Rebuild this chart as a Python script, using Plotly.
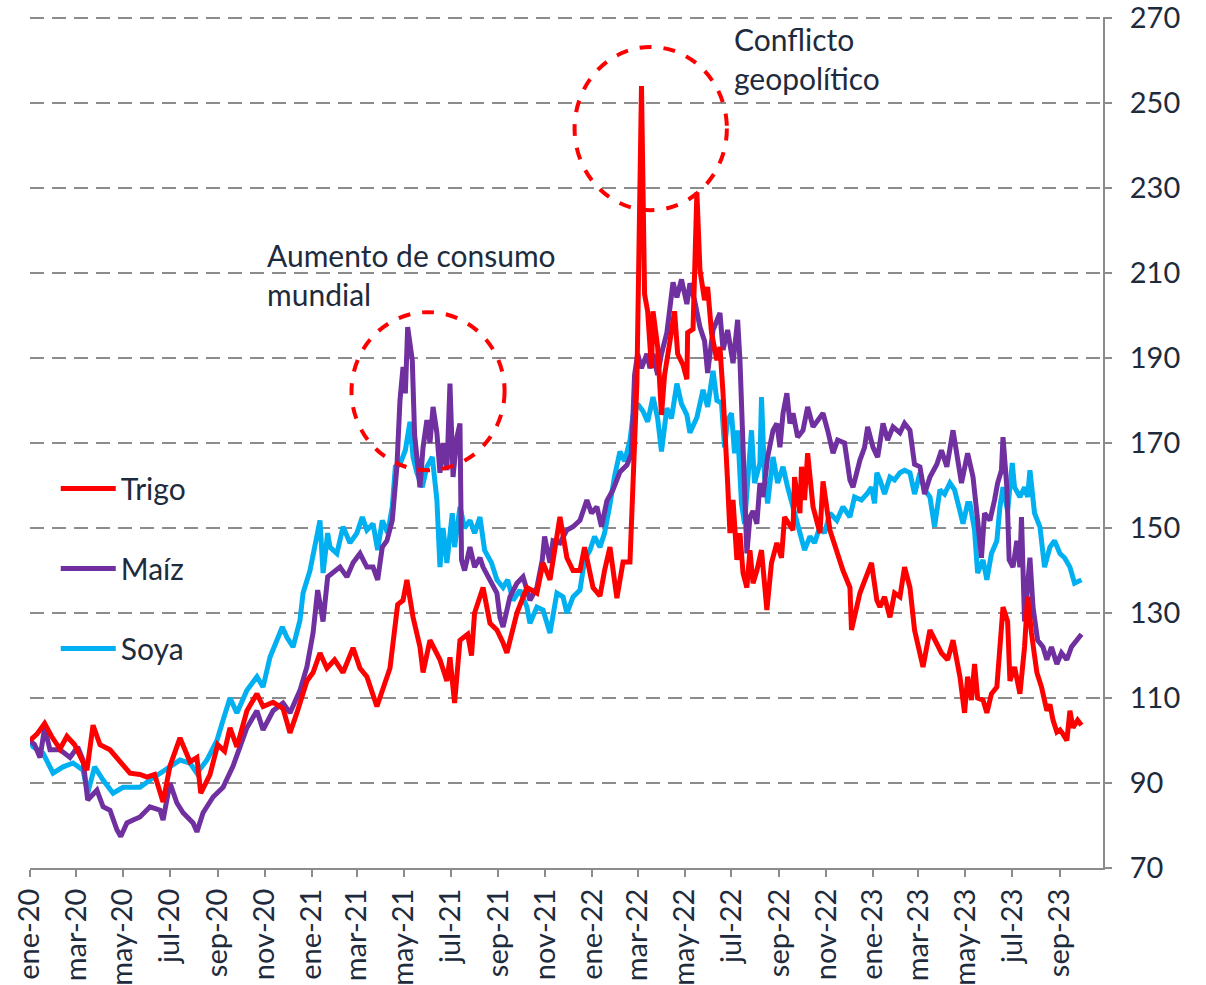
import plotly.graph_objects as go

# ---------------- data ----------------
trigo = [
    ("2020-01-01",100),("2020-01-10",101.5),("2020-01-20",104),("2020-01-29",101),("2020-02-09",98),
    ("2020-02-18",101),("2020-02-28",99),("2020-03-15",93),("2020-03-23",103.6),("2020-04-01",99),
    ("2020-04-14",97.8),("2020-04-27",95),("2020-05-10",92.3),("2020-05-23",92),("2020-06-01",91.4),
    ("2020-06-11",92),("2020-06-22",85.5),("2020-07-01",94),("2020-07-14",100.6),("2020-07-27",95),
    ("2020-08-05",96),("2020-08-10",87.6),("2020-08-22",92),("2020-09-01",99),("2020-09-10",97.5),
    ("2020-09-17",103),("2020-09-26",98.5),("2020-10-09",107),("2020-10-22",111),("2020-10-30",108),
    ("2020-11-12",109),("2020-11-25",107.5),("2020-12-04",101.8),("2020-12-13",106.5),("2020-12-26",114),
    ("2021-01-03",116),("2021-01-12",120.6),("2021-01-21",117),("2021-01-31",119),("2021-02-11",116),
    ("2021-02-24",121.8),("2021-03-05",117),("2021-03-14",115),("2021-03-27",108),("2021-04-04",112),
    ("2021-04-13",117),("2021-04-23",132),("2021-04-30",133),("2021-05-05",137.8),("2021-05-13",129),
    ("2021-05-22",122),("2021-05-26",116),("2021-06-04",123.6),("2021-06-17",119),("2021-06-26",114),
    ("2021-06-30",119.6),("2021-07-06",108.8),("2021-07-13",123.6),("2021-07-23",125),("2021-07-28",120),
    ("2021-08-01",130),("2021-08-12",136),("2021-08-21",127.6),("2021-08-30",126),("2021-09-07",123),
    ("2021-09-12",120.6),("2021-09-25",130),("2021-10-08",136),("2021-10-21",134.7),("2021-10-29",141.8),
    ("2021-11-07",137.8),("2021-11-20",152.6),("2021-11-29",143),("2021-12-07",140),("2021-12-16",140),
    ("2021-12-22",145.5),("2022-01-02",136),("2022-01-11",134),("2022-01-17",140),("2022-01-24",145.5),
    ("2022-02-02",133.5),("2022-02-10",142),("2022-02-19",142),("2022-02-23",159),("2022-02-28",184),
    ("2022-03-06",254),("2022-03-10",205),("2022-03-14",201),("2022-03-19",187.6),("2022-03-21",201),
    ("2022-03-27",192.6),("2022-04-01",176.6),("2022-04-05",186),("2022-04-12",194),("2022-04-18",201),
    ("2022-04-22",191),("2022-04-29",188.4),("2022-05-04",185),("2022-05-05",196),("2022-05-12",196.8),
    ("2022-05-17",229),("2022-05-21",210.7),("2022-05-27",203.6),("2022-05-31",206.7),("2022-06-05",196),
    ("2022-06-12",189.5),("2022-06-16",192.6),("2022-06-20",181.7),("2022-06-25",166.7),("2022-06-26",160.6),
    ("2022-06-29",148.8),("2022-07-03",156.6),("2022-07-08",142.5),("2022-07-12",148.8),("2022-07-16",139.4),
    ("2022-07-21",136),("2022-07-25",144.8),("2022-07-29",137),("2022-08-03",140),("2022-08-09",144.8),
    ("2022-08-16",130.7),("2022-08-22",141.8),("2022-08-29",146.5),("2022-09-04",143),("2022-09-08",152.6),
    ("2022-09-11",151.8),("2022-09-19",149.5),("2022-09-21",162),("2022-09-28",153.5),("2022-09-30",164.4),
    ("2022-10-04",156.6),("2022-10-08",167.6),("2022-10-15",155),("2022-10-24",148.8),("2022-10-28",161),
    ("2022-11-06",149.5),("2022-11-15",144),("2022-11-23",140),("2022-12-02",136),("2022-12-04",126),
    ("2022-12-15",134.7),("2022-12-25",140),("2022-12-30",141.8),("2023-01-06",133),("2023-01-10",131.4),
    ("2023-01-16",133.8),("2023-01-23",129),("2023-01-29",134.7),("2023-02-05",133.8),("2023-02-11",140.8),
    ("2023-02-18",136),("2023-02-24",126),("2023-03-07",117.3),("2023-03-16",126),("2023-03-25",123),
    ("2023-03-31",120.6),("2023-04-08",119),("2023-04-15",123.6),("2023-04-24",115),("2023-04-30",106.5),
    ("2023-05-04",115),("2023-05-09",109.5),("2023-05-13",118),("2023-05-17",110),("2023-05-24",109.5),
    ("2023-05-29",106.5),("2023-06-04",111),("2023-06-11",112.6),("2023-06-15",122),("2023-06-19",131.4),
    ("2023-06-25",128),("2023-06-28",114),("2023-07-04",117.3),("2023-07-11",111),("2023-07-17",122),
    ("2023-07-21",133.8),("2023-07-26",125.3),("2023-08-02",116),("2023-08-08",112.6),("2023-08-12",109),
    ("2023-08-15",107),("2023-08-19",108.5),("2023-08-23",104.8),("2023-08-28",102),("2023-09-01",102.5),
    ("2023-09-05",101.5),("2023-09-10",100),("2023-09-14",107),("2023-09-18",103),
    ("2023-09-24",104.8),("2023-09-29",103.6),
]

maiz = [
    ("2020-01-01",100),("2020-01-07",99),("2020-01-14",96),("2020-01-20",103),("2020-01-27",97.8),
    ("2020-02-09",97.8),("2020-02-22",96),("2020-03-03",98.5),("2020-03-10",95.4),("2020-03-16",86),
    ("2020-03-28",88.3),("2020-04-05",84.4),("2020-04-14",83.6),("2020-04-23",79),("2020-04-28",77.4),
    ("2020-05-06",80.6),("2020-05-14",81.3),("2020-05-23",82),("2020-06-05",84.4),("2020-06-18",83.6),
    ("2020-06-22",81.3),("2020-07-01",90),("2020-07-10",85.3),("2020-07-18",83),("2020-07-31",80.6),
    ("2020-08-05",78.5),("2020-08-13",83),("2020-08-26",86.7),("2020-09-08",89),("2020-09-21",94),
    ("2020-09-30",98.5),("2020-10-09",103),("2020-10-22",107),("2020-10-30",102.5),("2020-11-12",107),
    ("2020-11-25",108.8),("2020-12-04",106.5),("2020-12-17",111.8),("2020-12-26",117.3),("2021-01-03",125.3),
    ("2021-01-09",135.4),("2021-01-16",128),("2021-01-22",138.5),("2021-02-07",140.8),("2021-02-16",138.5),
    ("2021-02-24",141.8),("2021-03-05",144),("2021-03-14",140.8),("2021-03-22",140.8),("2021-03-28",137.8),
    ("2021-04-03",145.5),("2021-04-09",147),("2021-04-16",151.8),("2021-04-22",164.4),("2021-04-26",180),
    ("2021-04-30",187.9),("2021-05-03",181.7),("2021-05-06",197.3),("2021-05-12",189.5),("2021-05-15",172),
    ("2021-05-22",159.6),("2021-05-26",169),("2021-05-31",175.4),("2021-06-04",170),("2021-06-08",178.5),
    ("2021-06-13",172.4),("2021-06-17",163),("2021-06-21",170),("2021-06-26",163.6),("2021-06-30",184),
    ("2021-07-04",162),("2021-07-09",171.4),("2021-07-13",174.6),("2021-07-15",142.5),("2021-07-19",140),
    ("2021-07-26",145.5),("2021-08-01",140.8),("2021-08-08",143),("2021-08-12",140.8),("2021-08-21",137.8),
    ("2021-08-30",134.7),("2021-09-03",129),("2021-09-07",126.7),("2021-09-16",133.8),("2021-09-25",137),
    ("2021-10-03",138.5),("2021-10-12",133),("2021-10-21",136),("2021-10-28",142.5),("2021-10-31",148),
    ("2021-11-07",141.8),("2021-11-11",147),("2021-11-20",146.5),("2021-11-29",149.5),("2021-12-07",150.3),
    ("2021-12-16",151.8),("2021-12-25",156.6),("2021-12-31",153.5),("2022-01-07",155),("2022-01-13",150.3),
    ("2022-01-20",156.4),("2022-01-28",159),("2022-02-06",163.2),("2022-02-15",164.8),("2022-02-21",167.4),
    ("2022-02-25",186),("2022-03-01",191),("2022-03-06",187.6),("2022-03-13",191),("2022-03-17",187.6),
    ("2022-03-21",191),("2022-03-27",186),("2022-04-01",191),("2022-04-08",196),("2022-04-12",202.7),
    ("2022-04-16",207.8),("2022-04-21",204.3),("2022-04-27",208.5),("2022-05-04",202.7),("2022-05-08",207.6),
    ("2022-05-14",203.6),("2022-05-21",197.3),("2022-05-27",194),("2022-05-31",186.5),("2022-06-07",196.6),
    ("2022-06-16",200.6),("2022-06-20",191.9),("2022-06-26",196.6),("2022-07-03",188.8),("2022-07-09",199),
    ("2022-07-12",189.5),("2022-07-16",168.3),("2022-07-21",144),("2022-07-25",152.6),("2022-07-29",154),
    ("2022-08-03",151),("2022-08-07",160.6),("2022-08-11",157.3),("2022-08-17",166.7),("2022-08-24",173),
    ("2022-08-29",174.6),("2022-09-02",169),("2022-09-06",177),("2022-09-11",181.7),("2022-09-15",174.6),
    ("2022-09-19",177),("2022-09-25",171.4),("2022-10-02",173),("2022-10-08",178.5),("2022-10-15",173.8),
    ("2022-10-21",175.4),("2022-10-28",177),("2022-11-03",173),("2022-11-10",167.6),("2022-11-16",170.7),
    ("2022-11-25",170),("2022-12-02",161.3),("2022-12-06",159.6),("2022-12-15",166),("2022-12-21",169),
    ("2022-12-25",173.8),("2023-01-01",169),("2023-01-07",166.7),("2023-01-14",174.6),("2023-01-20",170.7),
    ("2023-01-27",173.8),("2023-02-05",172.4),("2023-02-11",174.6),("2023-02-18",173),("2023-02-24",165),
    ("2023-03-03",164.4),("2023-03-09",158),("2023-03-16",162),("2023-03-25",165),("2023-03-31",168.3),
    ("2023-04-07",164.4),("2023-04-15",173),("2023-04-21",166.7),("2023-04-26",160.6),("2023-05-04",167.6),
    ("2023-05-11",162),("2023-05-17",151.8),("2023-05-22",143),("2023-05-26",153.5),("2023-06-02",151.8),
    ("2023-06-08",156.6),("2023-06-12",160.6),("2023-06-17",163.6),("2023-06-19",171.4),("2023-06-24",159.6),
    ("2023-06-27",142.5),("2023-07-02",140.8),("2023-07-07",147),("2023-07-11",140.8),("2023-07-13",152.6),
    ("2023-07-17",128),("2023-07-24",143),("2023-07-28",131.4),("2023-08-03",123.6),("2023-08-10",122),
    ("2023-08-15",119),("2023-08-21",122),("2023-08-28",118),("2023-09-03",120.6),("2023-09-10",119),
    ("2023-09-16",122),("2023-09-23",123.6),("2023-09-29",125),
]

soya = [
    ("2020-01-01",100),("2020-01-05",98.5),("2020-01-18",97),("2020-01-31",92.3),("2020-02-13",93.8),
    ("2020-02-26",94.7),("2020-03-10",93),("2020-03-16",87.6),("2020-03-25",93.8),("2020-04-05",90.7),
    ("2020-04-18",87.6),("2020-05-01",89),("2020-05-14",89),("2020-05-23",89),("2020-06-05",90.7),
    ("2020-06-18",92.3),("2020-07-01",93.8),("2020-07-14",95.4),("2020-07-27",94.7),("2020-08-05",92.3),
    ("2020-08-18",95.4),("2020-08-31",100),("2020-09-08",104.8),("2020-09-17",110),("2020-09-26",106.5),
    ("2020-10-09",111.8),("2020-10-22",115),("2020-10-30",112.6),("2020-11-08",119.6),("2020-11-17",123.6),
    ("2020-11-24",126.7),("2020-11-30",124.3),("2020-12-08",122),("2020-12-17",128.3),("2020-12-21",134.7),
    ("2020-12-30",140),("2021-01-05",145.5),("2021-01-12",151.8),("2021-01-16",139.4),("2021-01-22",148.8),
    ("2021-01-25",145.5),("2021-02-03",144),("2021-02-11",150.3),("2021-02-20",146.5),("2021-03-01",148.8),
    ("2021-03-08",152.6),("2021-03-14",149.5),("2021-03-22",151),("2021-03-28",144.8),("2021-04-03",151.8),
    ("2021-04-10",148.8),("2021-04-16",155),("2021-04-20",164.4),("2021-04-26",165),("2021-05-03",168.3),
    ("2021-05-09",175),("2021-05-13",166.7),("2021-05-18",163),("2021-05-25",159.6),("2021-05-31",164.4),
    ("2021-06-07",166.7),("2021-06-13",156.6),("2021-06-17",140.8),("2021-06-21",150),("2021-06-26",141.8),
    ("2021-07-03",153.5),("2021-07-06",145.5),("2021-07-13",155),("2021-07-19",150),("2021-07-26",151.8),
    ("2021-08-01",148.8),("2021-08-08",152.6),("2021-08-14",144.8),("2021-08-23",141.8),("2021-08-30",137.8),
    ("2021-09-07",136),("2021-09-13",137.8),("2021-09-20",133),("2021-09-29",135.4),("2021-10-08",131.4),
    ("2021-10-12",127.6),("2021-10-21",131.4),("2021-10-29",130.7),("2021-11-07",125.3),("2021-11-16",134.7),
    ("2021-11-24",133.8),("2021-11-29",130),("2021-12-07",133.8),("2021-12-16",135.4),("2021-12-22",142.5),
    ("2021-12-29",144.8),("2022-01-04",148),("2022-01-11",145.5),("2022-01-17",148.8),("2022-01-24",155.6),
    ("2022-01-30",162.2),("2022-02-06",168),("2022-02-12",165.7),("2022-02-19",170.6),("2022-02-23",176.6),
    ("2022-03-01",179.2),("2022-03-08",177.5),("2022-03-14",175),("2022-03-21",180.8),("2022-03-27",175.8),
    ("2022-04-01",168),("2022-04-08",178.2),("2022-04-14",175.8),("2022-04-21",184),("2022-04-27",179.2),
    ("2022-05-04",176.6),("2022-05-08",172.4),("2022-05-17",176),("2022-05-25",182.5),("2022-05-31",178.5),
    ("2022-06-07",187),("2022-06-12",180),("2022-06-18",179.4),("2022-06-22",169),("2022-06-26",175.4),
    ("2022-07-01",177),("2022-07-05",167.6),("2022-07-09",173),("2022-07-14",155.8),("2022-07-18",151),
    ("2022-07-22",160.6),("2022-07-27",173),("2022-07-31",160.6),("2022-08-07",165.3),("2022-08-09",180.8),
    ("2022-08-13",162),("2022-08-17",155.8),("2022-08-24",166.7),("2022-08-30",160.6),("2022-09-06",164.4),
    ("2022-09-12",159.6),("2022-09-21",153.5),("2022-09-28",148.8),("2022-10-04",144.8),("2022-10-11",148),
    ("2022-10-17",146.5),("2022-10-24",150.3),("2022-10-30",148.8),("2022-11-06",153.5),("2022-11-15",151.8),
    ("2022-11-23",155),("2022-12-02",152.6),("2022-12-08",157.3),("2022-12-17",156.6),("2022-12-24",158),
    ("2022-12-30",159.6),("2023-01-03",155.8),("2023-01-06",163),("2023-01-10",161.3),("2023-01-16",158),
    ("2023-01-23",162),("2023-01-29",161.3),("2023-02-05",163),("2023-02-11",163.6),("2023-02-18",163),
    ("2023-02-24",158),("2023-03-03",163),("2023-03-09",159),("2023-03-16",157.3),("2023-03-22",150.3),
    ("2023-03-29",159),("2023-04-04",158),("2023-04-11",160.6),("2023-04-17",159),("2023-04-24",154),
    ("2023-04-28",151),("2023-05-04",155.8),("2023-05-07",155.8),("2023-05-13",149.5),("2023-05-17",139.4),
    ("2023-05-24",142.5),("2023-05-29",137.8),("2023-06-04",144),("2023-06-11",147),("2023-06-15",155),
    ("2023-06-19",159.6),("2023-06-25",154),("2023-07-01",165.3),("2023-07-04",159.6),("2023-07-11",157.3),
    ("2023-07-17",159.6),("2023-07-21",157.3),("2023-07-24",163.6),("2023-07-30",153.5),("2023-08-06",150.3),
    ("2023-08-12",140.8),("2023-08-19",145.5),("2023-08-25",147),("2023-09-01",144),("2023-09-07",143),
    ("2023-09-14",140.8),("2023-09-20",137),("2023-09-29",137.8),
]

tick_vals = ["2020-01-01","2020-03-01","2020-05-01","2020-07-01","2020-09-01","2020-11-01",
             "2021-01-01","2021-03-01","2021-05-01","2021-07-01","2021-09-01","2021-11-01",
             "2022-01-01","2022-03-01","2022-05-01","2022-07-01","2022-09-01","2022-11-01",
             "2023-01-01","2023-03-01","2023-05-01","2023-07-01","2023-09-01"]
tick_text = ["ene-20","mar-20","may-20","jul-20","sep-20","nov-20",
             "ene-21","mar-21","may-21","jul-21","sep-21","nov-21",
             "ene-22","mar-22","may-22","jul-22","sep-22","nov-22",
             "ene-23","mar-23","may-23","jul-23","sep-23"]
y_ticks = [70, 90, 110, 130, 150, 170, 190, 210, 230, 250, 270]

FONT = "Lato, 'Open Sans', sans-serif"
TXT = "#1E2B3C"
GRID = "#8C8C8C"

def split(pairs):
    return [p[0] for p in pairs], [p[1] for p in pairs]

fig = go.Figure()
series = [("Soya", soya, "#00B0F0", 3), ("Maíz", maiz, "#7030A0", 2), ("Trigo", trigo, "#FF0000", 1)]
for name, data, color, rank in series:
    xs, ys = split(data)
    fig.add_trace(go.Scatter(x=xs, y=ys, mode="lines", name=name, legendrank=rank,
                             legendgroup=name,
                             line=dict(color=color, width=5)))

fig.update_layout(
    width=1206, height=985,
    margin=dict(l=30, r=103, t=17, b=117, autoexpand=False),
    paper_bgcolor="white", plot_bgcolor="white",
    font=dict(family=FONT, size=30, color=TXT),
    showlegend=True,
    legend=dict(x=0.024, y=0.352, xanchor="left", yanchor="middle",
                bgcolor="rgba(0,0,0,0)", tracegroupgap=38,
                font=dict(size=30, color=TXT), itemwidth=55),
    xaxis=dict(type="date", range=["2020-01-01", "2023-10-27"], automargin=False,
               tickmode="array", tickvals=tick_vals, ticktext=tick_text,
               tickangle=-90, showgrid=False, zeroline=False,
               showline=True, linecolor=GRID, linewidth=2,
               ticks="outside", ticklen=7, tickcolor=GRID, tickwidth=2,
               tickfont=dict(size=29, color=TXT)),
    yaxis=dict(side="right", range=[70, 270.25], tickmode="array", tickvals=y_ticks,
               automargin=False, ticklabeloverflow="allow",
               showgrid=True, gridcolor=GRID, gridwidth=2, griddash="14px,8px",
               zeroline=False, showline=True, linecolor=GRID, linewidth=2,
               ticks="outside", ticklen=7, tickcolor=GRID, tickwidth=2,
               ticklabelstandoff=12,
               tickfont=dict(size=29, color=TXT)),
)

# red dashed circles
fig.add_shape(type="circle", xref="x", yref="y",
              x0="2021-02-22", x1="2021-09-09", y0=163.6, y1=200.8,
              line=dict(color="#FF0000", width=4, dash="dash"))
fig.add_shape(type="circle", xref="x", yref="y",
              x0="2021-12-09", x1="2022-06-25", y0=224.8, y1=263.2,
              line=dict(color="#FF0000", width=4, dash="dash"))

fig.add_annotation(text="Aumento de consumo<br>mundial", xref="paper", yref="paper",
                   x=0.219, y=0.744, xanchor="left", yanchor="top", align="left",
                   showarrow=False, font=dict(size=30, color=TXT, family=FONT))
fig.add_annotation(text="Conflicto<br>geopolítico", xref="paper", yref="paper",
                   x=0.654, y=0.998, xanchor="left", yanchor="top", align="left",
                   showarrow=False, font=dict(size=30, color=TXT, family=FONT))

fig.write_html("out.html", config={"displayModeBar": False},
               post_script="document.body.style.margin='0';")
